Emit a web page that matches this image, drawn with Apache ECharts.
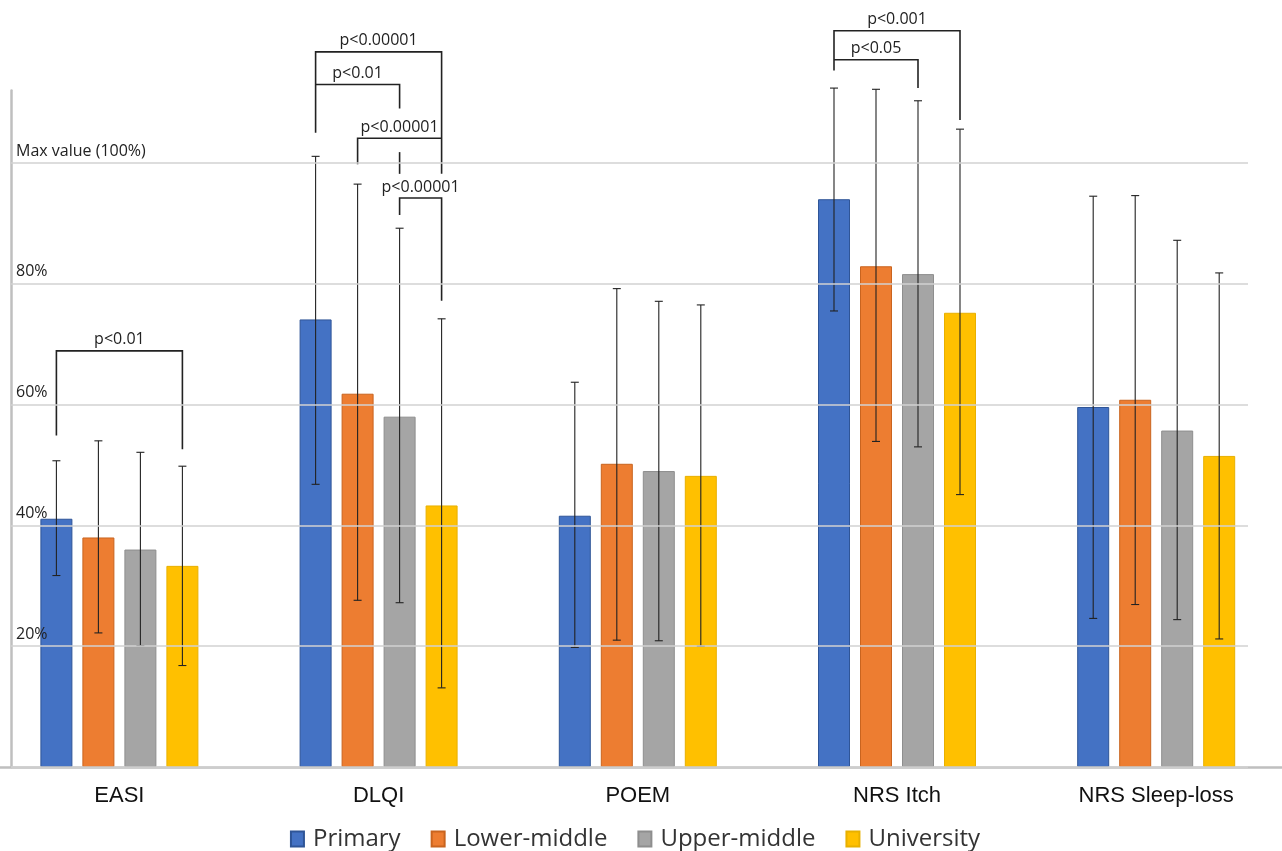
<!DOCTYPE html>
<html><head><meta charset="utf-8">
<script src="https://cdn.jsdelivr.net/npm/echarts@6/dist/echarts.min.js"></script>
<style>html,body{margin:0;padding:0;background:#fff;overflow:hidden;width:1282px;height:851px;position:relative}
#c{position:absolute;left:-20px;top:0;width:1310px;height:851px}</style>
</head><body><div id="c"></div><script>
const categories = ['EASI', 'DLQI', 'POEM', 'NRS Itch', 'NRS Sleep-loss'];
const seriesNames = ['Primary', 'Lower-middle', 'Upper-middle', 'University'];
const primary = [41.1, 74.1, 41.6, 94.0, 59.6];
const lowerMiddle = [38.0, 61.8, 50.2, 82.9, 60.8];
const upperMiddle = [36.0, 58.0, 49.0, 81.6, 55.7];
const university = [33.3, 43.3, 48.2, 75.2, 51.5];
const primaryErrLow = [31.7, 46.8, 19.8, 75.5, 24.6];
const primaryErrHigh = [50.7, 101.1, 63.7, 112.4, 94.5];
const lowerMiddleErrLow = [22.2, 27.6, 21.0, 53.9, 26.9];
const lowerMiddleErrHigh = [54.0, 96.5, 79.2, 112.2, 94.6];
const upperMiddleErrLow = [20.1, 27.2, 20.9, 53.0, 24.4];
const upperMiddleErrHigh = [52.1, 89.2, 77.1, 110.3, 87.2];
const universityErrLow = [16.8, 13.1, 20.0, 45.1, 21.2];
const universityErrHigh = [49.8, 74.2, 76.5, 105.6, 81.8];
const yTickValues = [0, 20, 40, 60, 80, 100];
const yTickLabels = ['', '20%', '40%', '60%', '80%', 'Max value (100%)'];
// [categoryIndex, fromSeries, toSeries, bracketLevel, fromLegEnd, toLegEnd, label]
const brackets = [
  [0, 0, 3, 68.9, 54.9, 52.6, 'p<0.01'],
  [1, 0, 3, 118.4, 105.0, 98.2, 'p<0.00001'],
  [1, 0, 2, 113.0, 113.0, 109.0, 'p<0.01'],
  [1, 1, 3, 104.1, 99.8, 104.1, 'p<0.00001'],
  [1, 2, 3, 94.2, 91.4, 77.2, 'p<0.00001'],
  [3, 0, 3, 121.9, 115.3, 107.1, 'p<0.001'],
  [3, 0, 2, 117.1, 117.1, 112.4, 'p<0.05']
];
// [categoryIndex, seriesIndex, from, to]
const bracketTicks = [[1, 2, 101.8, 98.2]];

const values = [primary, lowerMiddle, upperMiddle, university];
const errLow = [primaryErrLow, lowerMiddleErrLow, upperMiddleErrLow, universityErrLow];
const errHigh = [primaryErrHigh, lowerMiddleErrHigh, upperMiddleErrHigh, universityErrHigh];
const colors = ['#4472C4', '#ED7D31', '#A5A5A5', '#FFC000'];
const borders = ['#2F5597', '#C9641F', '#8E8E8E', '#E8B000'];
const FONT = '"Open Sans", "Noto Sans", sans-serif';
const CAT_FONT = '"Liberation Sans", Arial, sans-serif';
const BAR_W = 32, BAR_GAP = 10;
const offsetOf = j => (j - 1.5) * (BAR_W + BAR_GAP);

const chart = echarts.init(document.getElementById('c'));

const barSeries = seriesNames.map((n, j) => ({
  name: n, type: 'bar', xAxisIndex: 1, yAxisIndex: 1,
  data: values[j], barWidth: BAR_W, barGap: (BAR_GAP / BAR_W * 100) + '%',
  itemStyle: { color: colors[j], borderColor: borders[j], borderWidth: 1 },
  z: 2
}));

const errData = [];
seriesNames.forEach((n, j) => categories.forEach((c, i) => errData.push([i, errLow[j][i], errHigh[j][i], j])));

const errSeries = {
  type: 'custom', name: 'err', xAxisIndex: 1, yAxisIndex: 1, z: 5,
  data: errData,
  renderItem(params, api) {
    const i = api.value(0), j = api.value(3);
    const lo = api.coord([i, api.value(1)]);
    const hi = api.coord([i, api.value(2)]);
    const x = lo[0] + offsetOf(j);
    const st = { stroke: '#222', lineWidth: 1.1 };
    return { type: 'group', children: [
      { type: 'line', shape: { x1: x, y1: lo[1], x2: x, y2: hi[1] }, style: st },
      { type: 'line', shape: { x1: x - 4, y1: hi[1], x2: x + 4, y2: hi[1] }, style: st },
      { type: 'line', shape: { x1: x - 4, y1: lo[1], x2: x + 4, y2: lo[1] }, style: st }
    ]};
  }
};

const bracketSeries = {
  type: 'custom', name: 'brackets', xAxisIndex: 1, yAxisIndex: 1, z: 6, clip: false,
  data: brackets.map(b => b.slice(0, 6)),
  renderItem(params, api) {
    const b = brackets[params.dataIndex];
    const c = api.coord([b[0], b[3]]);
    const xa = c[0] + offsetOf(b[1]), xb = c[0] + offsetOf(b[2]);
    const yh = c[1];
    const ya = api.coord([b[0], b[4]])[1], yb = api.coord([b[0], b[5]])[1];
    return { type: 'group', children: [
      { type: 'polyline', shape: { points: [[xa, ya], [xa, yh], [xb, yh], [xb, yb]] },
        style: { stroke: '#222', lineWidth: 1.6, fill: null } },
      { type: 'text', x: (xa + xb) / 2, y: yh - 3,
        style: { text: b[6], align: 'center', verticalAlign: 'bottom', fontSize: 16, fill: '#222', fontFamily: FONT } }
    ]};
  }
};

const tickSeries = {
  type: 'custom', name: 'ticks', xAxisIndex: 1, yAxisIndex: 1, z: 6, clip: false,
  data: bracketTicks,
  renderItem(params, api) {
    const t = bracketTicks[params.dataIndex];
    const p1 = api.coord([t[0], t[2]]), p2 = api.coord([t[0], t[3]]);
    const x = p1[0] + offsetOf(t[1]);
    return { type: 'line', shape: { x1: x, y1: p1[1], x2: x, y2: p2[1] }, style: { stroke: '#222', lineWidth: 1.6 } };
  }
};

chart.setOption({
  animation: false,
  backgroundColor: '#fff',
  textStyle: { fontFamily: FONT },
  grid: [
    { left: 31, right: 42, top: 163, bottom: 84 },
    { left: 9.8, right: 4.2, top: 90.5, bottom: 84 }
  ],
  xAxis: [
    { gridIndex: 0, type: 'value', min: 0, max: 1, show: false },
    { gridIndex: 1, type: 'category', data: categories,
      axisLine: { lineStyle: { color: '#BFBFBF', width: 2.5 } },
      axisTick: { show: false },
      axisLabel: { fontSize: 22, color: '#111', margin: 18, fontFamily: CAT_FONT } }
  ],
  yAxis: [
    { gridIndex: 0, type: 'value', min: 0, max: 100, interval: 20,
      axisLine: { show: false }, axisTick: { show: false },
      splitLine: { lineStyle: { color: '#D2D2D2', width: 1.5 } },
      axisLabel: { inside: true, margin: 5, fontSize: 16, color: '#222', verticalAlign: 'bottom',
        padding: [0, 0, 4, 0], fontFamily: FONT,
        formatter: v => { const k = yTickValues.indexOf(v); return k >= 0 ? yTickLabels[k] : ''; } },
      z: 8 },
    { gridIndex: 1, type: 'value', min: 0, max: 112, offset: -21.2,
      axisLine: { show: true, lineStyle: { color: '#BFBFBF', width: 2.5 } },
      axisTick: { show: false }, axisLabel: { show: false }, splitLine: { show: false } }
  ],
  legend: {
    data: seriesNames, top: 822, left: 'center',
    icon: 'rect', itemWidth: 13, itemHeight: 15, itemGap: 30,
    textStyle: { fontSize: 24, color: '#333', fontFamily: FONT, padding: [0, 0, 0, 4] }
  },
  series: [...barSeries, errSeries, bracketSeries, tickSeries]
});
</script></body></html>
